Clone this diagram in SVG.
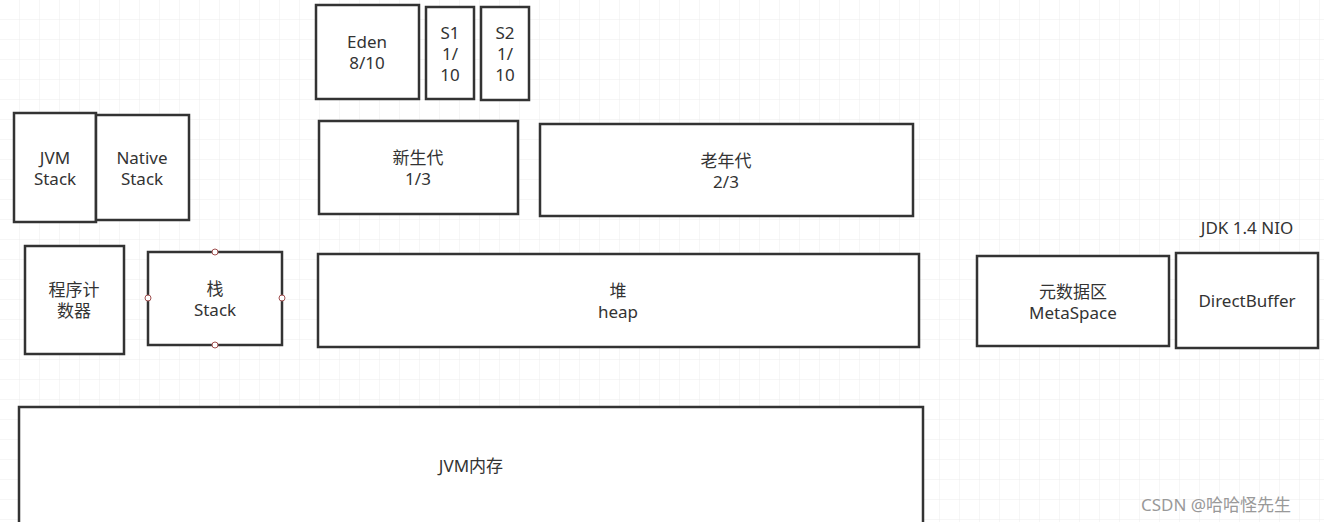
<svg xmlns="http://www.w3.org/2000/svg" width="1324" height="522" viewBox="0 0 1324 522">
<defs>
<pattern id="g" width="20" height="20" patternUnits="userSpaceOnUse"><path d="M20 0V20H0" fill="none" stroke="#ececec" stroke-width="1"/></pattern>
</defs>
<style>
rect.n{fill:#fff;stroke:#333;stroke-width:2.5}
text{font-family:"Noto Sans","Noto Sans CJK SC",sans-serif;font-size:17px;fill:#333;text-anchor:middle}
circle.h{fill:#fff;stroke:#a05050;stroke-width:1}
</style>
<rect width="1324" height="522" fill="#fff"/>
<rect width="1324" height="522" fill="url(#g)"/>
<g id="eden"><rect class="n" x="316" y="5" width="103" height="94"/><text x="367" y="48">Eden</text><text x="367" y="69">8/10</text></g>
<g id="s1"><rect class="n" x="426" y="7" width="48" height="92"/><text x="450" y="39">S1</text><text x="450" y="60">1/</text><text x="450" y="81">10</text></g>
<g id="s2"><rect class="n" x="481" y="7" width="48" height="93"/><text x="505" y="39">S2</text><text x="505" y="60">1/</text><text x="505" y="81">10</text></g>
<g id="jvmstack"><rect class="n" x="14" y="113" width="82" height="109"/><text x="55" y="164">JVM</text><text x="55" y="185">Stack</text></g>
<g id="nativestack"><rect class="n" x="96" y="115" width="93" height="105"/><text x="142" y="164">Native</text><text x="142" y="185">Stack</text></g>
<g id="young"><rect class="n" x="319" y="121" width="199" height="93"/><text x="418" y="164">新生代</text><text x="418" y="185">1/3</text></g>
<g id="old"><rect class="n" x="540" y="124" width="373" height="92"/><text x="726" y="167">老年代</text><text x="726" y="188">2/3</text></g>
<g id="pc"><rect class="n" x="25" y="246" width="99" height="108"/><text x="74" y="296">程序计</text><text x="74" y="317">数器</text></g>
<g id="stack"><rect class="n" x="148" y="252" width="134" height="93"/><text x="215" y="295">栈</text><text x="215" y="316">Stack</text>
<circle class="h" cx="215" cy="252" r="3"/><circle class="h" cx="215" cy="345" r="3"/><circle class="h" cx="148" cy="298" r="3"/><circle class="h" cx="282" cy="298" r="3"/></g>
<g id="heap"><rect class="n" x="318" y="254" width="601" height="93"/><text x="618" y="297">堆</text><text x="618" y="318">heap</text></g>
<g id="meta"><rect class="n" x="977" y="256" width="192" height="90"/><text x="1073" y="298">元数据区</text><text x="1073" y="319">MetaSpace</text></g>
<g id="direct"><rect class="n" x="1176" y="253" width="142" height="95"/><text x="1247" y="307">DirectBuffer</text><text x="1247" y="234">JDK 1.4 NIO</text></g>
<g id="jvmmem"><rect class="n" x="19" y="407" width="904" height="125"/><text x="471" y="472">JVM内存</text></g>
<g id="connectors"/>
<text x="1216" y="511" style="font-size:17px;fill:#999">CSDN @哈哈怪先生</text>
</svg>
